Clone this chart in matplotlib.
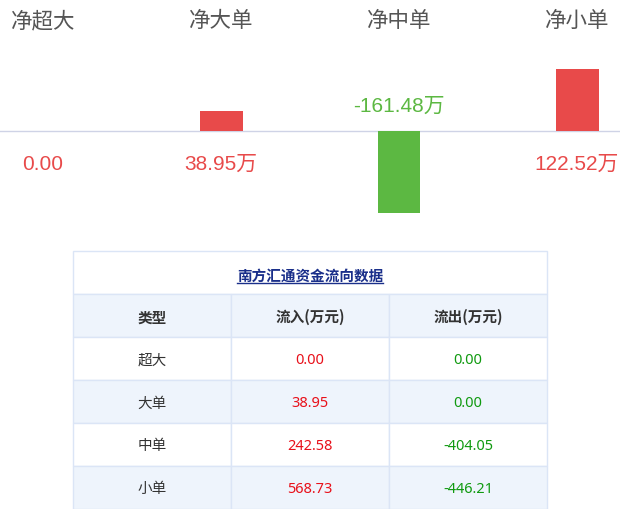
import matplotlib
matplotlib.use('Agg')
import matplotlib.pyplot as plt
from matplotlib.patches import Rectangle
from matplotlib.lines import Line2D

plt.rcParams['font.family'] = ['Noto Sans CJK SC', 'DejaVu Sans']

# bar part
categories = ['净超大', '净大单', '净中单', '净小单']
net_flow = [0.00, 38.95, -161.48, 122.52]
net_labels = ['0.00', '38.95万', '-161.48万', '122.52万']

# table part
table_title = '南方汇通资金流向数据'
col_headers = ['类型', '流入(万元)', '流出(万元)']
row_types = ['超大', '大单', '中单', '小单']
inflow = ['0.00', '38.95', '242.58', '568.73']
outflow = ['0.00', '0.00', '-404.05', '-446.21']

RED = '#e84a4a'
GREEN = '#5cb842'
BORDER = '#dbe5f6'
ROW_BG = '#eef4fc'
NUM_FONT = ['Noto Sans', 'Noto Sans CJK SC']

W, H = 620, 510
fig = plt.figure(figsize=(6.2, 5.1), dpi=100)


def px_axes(left, top, width, height):
    # axes placed in pixel units, measured from the top left corner
    return fig.add_axes([left / W, 1 - (top + height) / H, width / W, height / H])


# ---- net flow bars ----
ax = px_axes(0, 0, 620, 250)
step, x0, scale, base = 178, 43, 0.507, 132
ax.set_xlim(-x0 / step, (W - x0) / step)
ax.set_ylim(-(250 - base) / scale, base / scale)
ax.axis('off')
ax.axhline(0, color='#cfd3e6', lw=1, zorder=2)

colors = [RED if v >= 0 else GREEN for v in net_flow]
ax.bar(range(len(categories)), net_flow, width=43 / step, color=colors, zorder=3)

for i, (cat, v, lab) in enumerate(zip(categories, net_flow, net_labels)):
    ax.text(i, (base - 21) / scale, cat, ha='center', va='center',
            fontsize=15.5, color='#555555')
    # positive values go under the axis, negative above it
    y = -32 / scale if v >= 0 else 26 / scale
    ax.text(i, y, lab, ha='center', va='center', fontsize=15,
            color=RED if v >= 0 else GREEN,
            family=['Liberation Sans', 'Noto Sans CJK SC'], clip_on=False)

# ---- table ----
tx = px_axes(73, 252, 474, 258)
tx.set_xlim(0, 3)
tx.set_ylim(6, 0)
tx.axis('off')

# title row
tx.add_patch(Rectangle((0, 0), 3, 1, facecolor='white', edgecolor=BORDER, lw=1, clip_on=False))
title = tx.text(1.5, 0.54, table_title, ha='center', va='center', fontsize=10.5,
                color='#1a2f8a', fontweight='bold')

rows = [col_headers] + [[t, a, b] for t, a, b in zip(row_types, inflow, outflow)]
for r, row in enumerate(rows):
    y = r + 1
    bg = ROW_BG if r % 2 == 0 else 'white'
    for c, val in enumerate(row):
        tx.add_patch(Rectangle((c, y), 1, 1, facecolor=bg, edgecolor=BORDER, lw=1, clip_on=False))
        fam = plt.rcParams['font.family']
        if r == 0:
            color, weight = '#333333', 'bold'
        elif c == 0:
            color, weight = '#333333', 'normal'
        elif c == 1:
            color, weight, fam = '#e8101a', 'normal', NUM_FONT
        else:
            color, weight, fam = '#109a10', 'normal', NUM_FONT
        tx.text(c + 0.5, y + 0.52, val, ha='center', va='center', fontsize=10.5,
                color=color, fontweight=weight, family=fam)

# underline the table title
fig.canvas.draw()
bb = title.get_window_extent()
fig.add_artist(Line2D([bb.x0 / W, bb.x1 / W], [(bb.y0 - 1) / H] * 2,
                      color='#1a2f8a', lw=1, transform=fig.transFigure))

fig.savefig('out.png', dpi=100)
